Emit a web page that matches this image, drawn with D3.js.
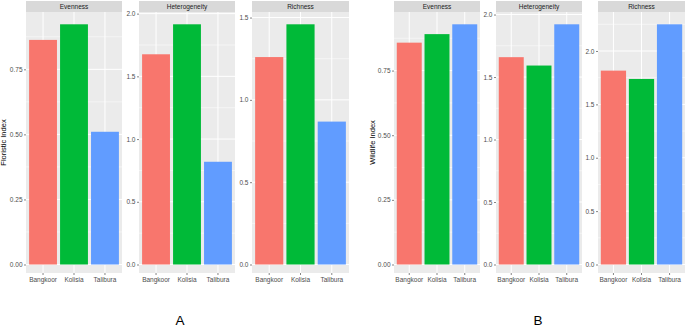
<!DOCTYPE html>
<html lang="en">
<head>
<meta charset="UTF-8">
<title>Floristic and wildlife indices</title>
<script src="https://d3js.org/d3.v7.min.js"></script>
<style>
    body { margin: 0; background: #fff; }
    svg { display: block; font-family: 'Liberation Sans', Arial, sans-serif; }
</style>
</head>
<body>
<svg id="chart" width="685" height="329"></svg>
<script>
    // data
    const sites = ["Bangkoor", "Kolisia", "Talibura"];
    const indices = ["Evenness", "Heterogeneity", "Richness"];
    const floristic = {
        Evenness: [0.863, 0.923, 0.51],
        Heterogeneity: [1.676, 1.915, 0.819],
        Richness: [1.26, 1.459, 0.868]
    };
    const wildlife = {
        Evenness: [0.858, 0.891, 0.929],
        Heterogeneity: [1.659, 1.592, 1.922],
        Richness: [1.816, 1.738, 2.25]
    };
    // y tick labels per panel
    const floristicTicks = {
        Evenness: ["0.00", "0.25", "0.50", "0.75"],
        Heterogeneity: ["0.0", "0.5", "1.0", "1.5", "2.0"],
        Richness: ["0.0", "0.5", "1.0", "1.5"]
    };
    const wildlifeTicks = {
        Evenness: ["0.00", "0.25", "0.50", "0.75"],
        Heterogeneity: ["0.0", "0.5", "1.0", "1.5", "2.0"],
        Richness: ["0.0", "0.5", "1.0", "1.5", "2.0"]
    };
    const siteColors = ["#F8766D", "#00BA38", "#619CFF"];

    const svg = d3.select("#chart");
    const color = d3.scaleOrdinal().domain(sites).range(siteColors);

    const panelTop = 12, panelBottom = 273;
    const zeroY = 264.5, maxY = 24.3;

    function drawFigure(data, tickSet, panelsX, yTitle, titleX, letter, letterX) {
        indices.forEach((idx, i) => {
            const [x0, x1] = panelsX[i];
            const vals = data[idx];
            const tickLabels = tickSet[idx];
            const ticks = tickLabels.map(Number);
            const g = svg.append("g");

            const x = d3.scaleBand().domain(sites).range([x0, x1]).padding(0.1);
            const y = d3.scaleLinear().domain([0, d3.max(vals)]).range([zeroY, maxY]);
            const lo = y.invert(panelBottom), hi = y.invert(panelTop);

            // panel background
            g.append("rect").attr("x", x0).attr("y", panelTop)
                .attr("width", x1 - x0).attr("height", panelBottom - panelTop)
                .attr("fill", "#ebebeb");

            const step = ticks[1] - ticks[0];
            const minors = [];
            for (let m = ticks[0] - step / 2; m <= hi; m += step) {
                if (m >= lo) minors.push(m);
            }
            g.selectAll(".minor").data(minors).enter().append("line")
                .attr("x1", x0).attr("x2", x1)
                .attr("y1", d => y(d)).attr("y2", d => y(d))
                .attr("stroke", "#fff").attr("stroke-width", 0.5);
            g.selectAll(".major").data(ticks).enter().append("line")
                .attr("x1", x0).attr("x2", x1)
                .attr("y1", d => y(d)).attr("y2", d => y(d))
                .attr("stroke", "#fff").attr("stroke-width", 1);
            g.selectAll(".vgrid").data(sites).enter().append("line")
                .attr("x1", d => x(d) + x.bandwidth() / 2).attr("x2", d => x(d) + x.bandwidth() / 2)
                .attr("y1", panelTop).attr("y2", panelBottom)
                .attr("stroke", "#fff").attr("stroke-width", 1);

            // bars
            g.selectAll(".bar").data(sites).enter().append("rect")
                .attr("x", d => x(d))
                .attr("y", (d, k) => y(vals[k]))
                .attr("width", x.bandwidth())
                .attr("height", (d, k) => y(0) - y(vals[k]))
                .attr("fill", d => color(d));

            // strip
            g.append("rect").attr("x", x0).attr("y", 1)
                .attr("width", x1 - x0).attr("height", panelTop - 1)
                .attr("fill", "#d9d9d9");
            g.append("text").attr("x", (x0 + x1) / 2).attr("y", 9)
                .attr("text-anchor", "middle").attr("font-size", 6.5)
                .attr("fill", "#1a1a1a").text(idx);

            // y axis
            const yAxis = d3.axisLeft(y).tickValues(ticks).tickSize(2).tickPadding(1.5)
                .tickFormat((d, k) => tickLabels[k]);
            const ya = g.append("g").attr("transform", `translate(${x0},0)`).call(yAxis);
            ya.select(".domain").remove();
            ya.selectAll("line").attr("stroke", "#333").attr("stroke-width", 0.6);
            ya.selectAll("text").attr("font-size", 6.5).attr("fill", "#4d4d4d")
                .attr("font-family", "'Liberation Sans', Arial, sans-serif");

            // x axis
            const xAxis = d3.axisBottom(x).tickSize(2).tickPadding(2);
            const xa = g.append("g").attr("transform", `translate(0,${panelBottom})`).call(xAxis);
            xa.select(".domain").remove();
            xa.selectAll("line").attr("stroke", "#333").attr("stroke-width", 0.6);
            xa.selectAll("text").attr("font-size", 6.5).attr("fill", "#4d4d4d")
                .attr("font-family", "'Liberation Sans', Arial, sans-serif");
        });

        svg.append("text")
            .attr("transform", `translate(${titleX},${(panelTop + panelBottom) / 2}) rotate(-90)`)
            .attr("text-anchor", "middle").attr("font-size", 7.5).attr("fill", "#000")
            .text(yTitle);

        svg.append("text").attr("x", letterX).attr("y", 325)
            .attr("text-anchor", "middle").attr("font-size", 13.5).attr("fill", "#000")
            .text(letter);
    }

    drawFigure(floristic, floristicTicks, [[26, 122], [139, 235], [252, 349]], "Floristic Index", 6, "A", 180);
    drawFigure(wildlife, wildlifeTicks, [[394, 480], [496, 582], [598, 685]], "Wildlife Index", 375, "B", 538);
</script>
</body>
</html>
